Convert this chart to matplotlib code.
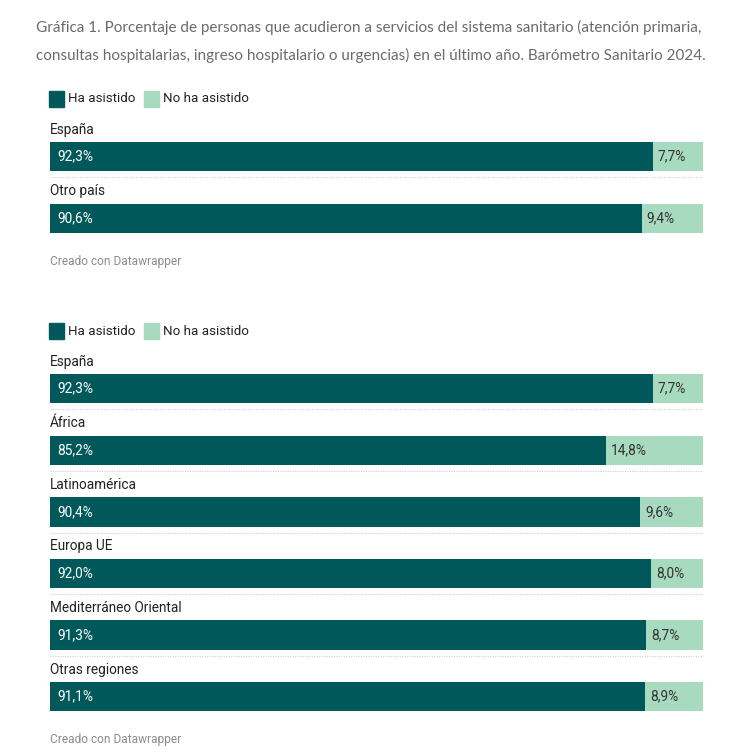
import matplotlib.pyplot as plt
from matplotlib.patches import Rectangle

# ---- data ----
legend_labels = ["Ha asistido", "No ha asistido"]

origin_cats = ["España", "Otro país"]
origin_yes = [92.3, 90.6]
origin_no = [7.7, 9.4]

region_cats = ["España", "África", "Latinoamérica", "Europa UE",
               "Mediterráneo Oriental", "Otras regiones"]
region_yes = [92.3, 85.2, 90.4, 92.0, 91.3, 91.1]
region_no = [7.7, 14.8, 9.6, 8.0, 8.7, 8.9]

title_lines = [
    "Gráfica 1. Porcentaje de personas que acudieron a servicios del sistema sanitario (atención primaria,",
    "consultas hospitalarias, ingreso hospitalario o urgencias) en el último año. Barómetro Sanitario 2024.",
]
footer = "Creado con Datawrapper"

DARK = "#01585a"
LIGHT = "#a8dac0"
W, H = 743, 756
PITCH = 61.6      # px between rows
BAR_PX = 29.5     # bar thickness in px
X0, X1 = 50, 703  # bar span in px

fig = plt.figure(figsize=(W / 100, H / 100), dpi=100)
fig.patch.set_facecolor("white")


def fx(px):
    return px / W


def fy(py):
    return 1 - py / H


def fmt(v):
    return f"{v:.1f}%".replace(".", ",")


def draw_chart(cats, yes, no, first_center_px):
    n = len(cats)
    top = first_center_px - PITCH / 2
    bottom = first_center_px + (n - 0.5) * PITCH
    ax = fig.add_axes([fx(X0), fy(bottom), fx(X1) - fx(X0), (bottom - top) / H])
    ax.set_xlim(0, 100)
    ax.set_ylim(n - 0.5, -0.5)
    ax.axis("off")

    ys = list(range(n))
    h = BAR_PX / PITCH
    ax.barh(ys, yes, height=h, color=DARK, linewidth=0)
    ax.barh(ys, no, left=yes, height=h, color=LIGHT, linewidth=0)

    px_unit = 100 / (X1 - X0)
    for i, (c, a, b) in enumerate(zip(cats, yes, no)):
        ax.text(0, i - 0.44, c, ha="left", va="center", fontsize=9.8,
                color="#222222", family="Roboto", clip_on=False)
        ax.text(7 * px_unit, i, fmt(a), ha="left", va="center", fontsize=9.9,
                color="white", family="Roboto")
        ax.text(a + 5 * px_unit, i, fmt(b), ha="left", va="center", fontsize=9.9,
                color="#333333", family="Roboto")
        if i < n - 1:
            ax.plot([0, 100], [i + 0.335, i + 0.335], color="#d0d0d0",
                    linewidth=0.8, linestyle=(0, (1, 1.2)), clip_on=False)
    return ax


def draw_legend(py):
    xs = [49, 144]
    for x, lab, col in zip(xs, legend_labels, [DARK, LIGHT]):
        fig.patches.append(Rectangle((fx(x), fy(py + 7.5)), 15 / W, 15 / H,
                                     transform=fig.transFigure, color=col))
        fig.text(fx(x + 19), fy(py), lab, ha="left", va="center",
                 fontsize=9.6, color="#222222", family="Roboto")


# title, sized so the second line spans about 670 px like the reference
renderer = fig.canvas.get_renderer()
title_texts = []
for line, py in zip(title_lines, [27, 55]):
    t = fig.text(fx(36), fy(py), line, ha="left", va="center", fontsize=12,
                 color="#6b6b6b", family="Lato")
    title_texts.append(t)
w2 = title_texts[1].get_window_extent(renderer).width
size = 12 * 670 / w2
for t in title_texts:
    t.set_fontsize(size)

# chart 1
draw_legend(99)
draw_chart(origin_cats, origin_yes, origin_no, 156.7)
fig.text(fx(50), fy(261), footer, ha="left", va="center", fontsize=8.6,
         color="#8c8c8c", family="Roboto")

# chart 2
draw_legend(331)
draw_chart(region_cats, region_yes, region_no, 388.7)
fig.text(fx(50), fy(740), footer, ha="left", va="center", fontsize=8.6,
         color="#8c8c8c", family="Roboto")

fig.savefig("out.png", dpi=100, facecolor="white")
